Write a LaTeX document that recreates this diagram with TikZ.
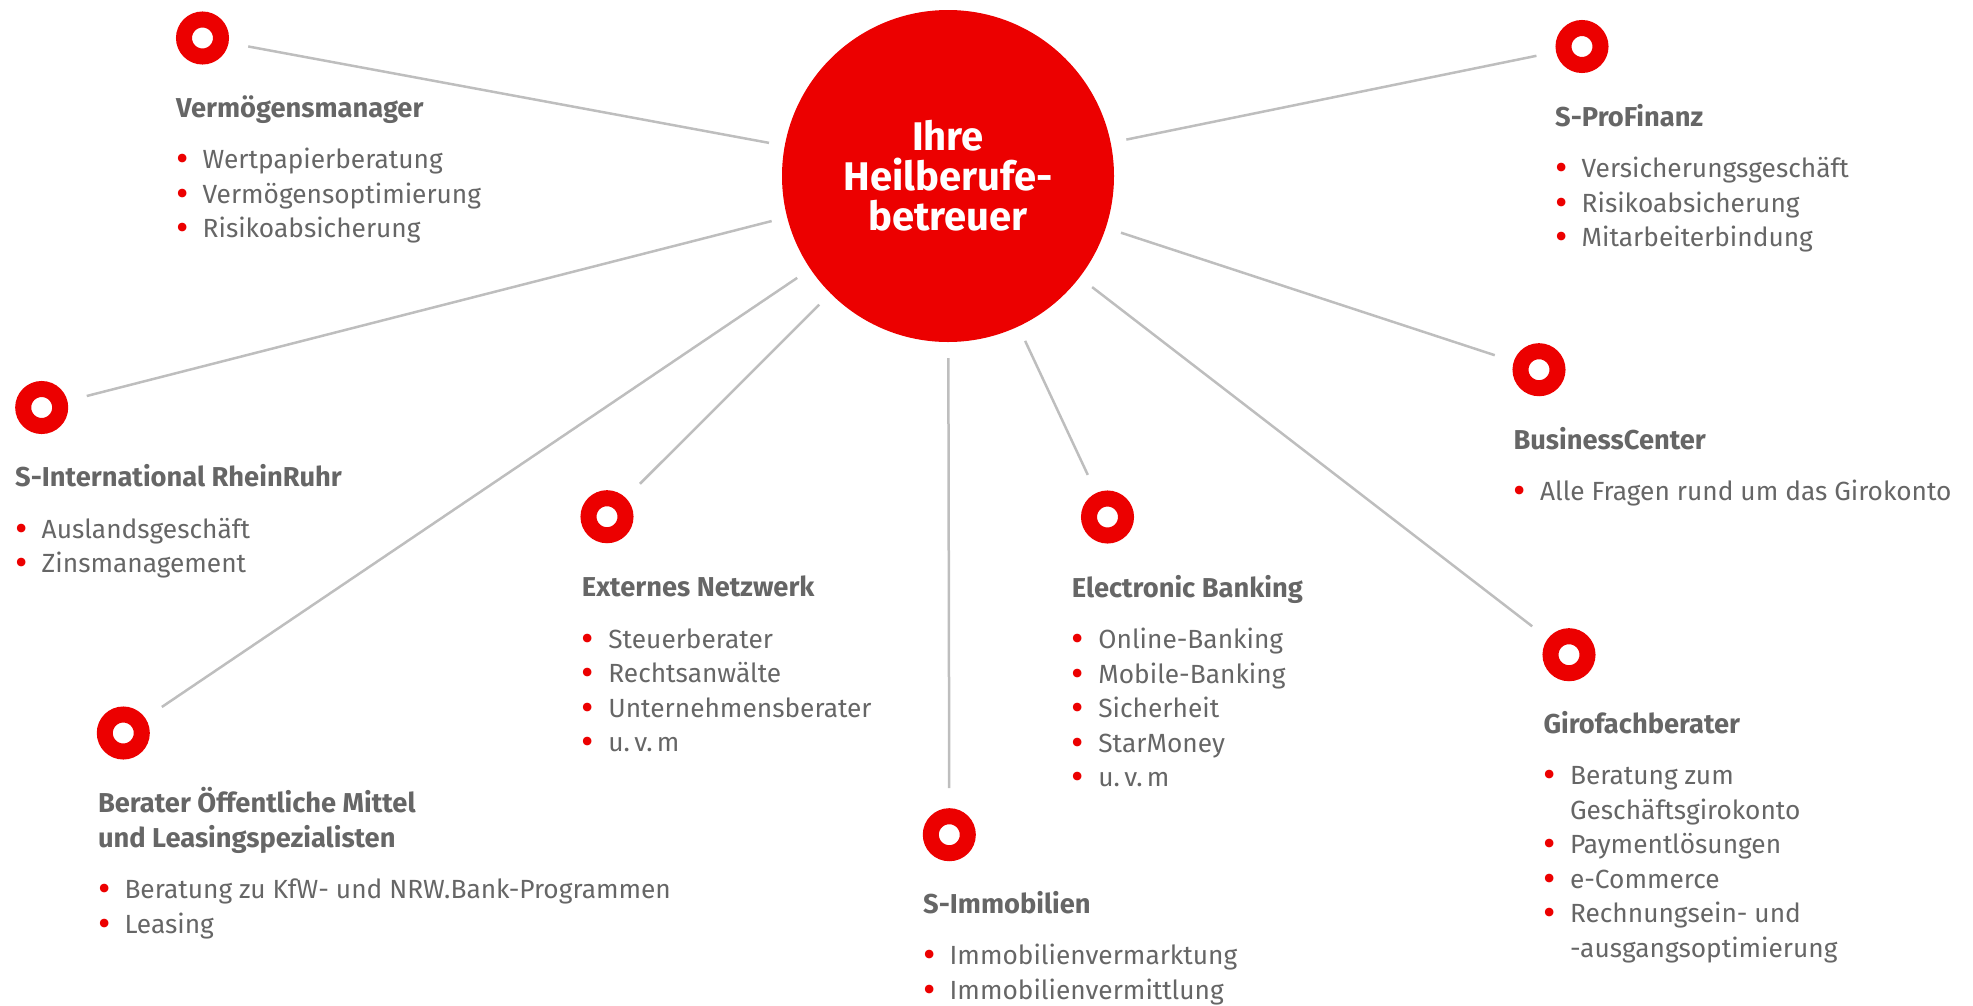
\documentclass[tikz,border=0pt]{standalone}
\usepackage{fontspec}
\setmainfont{Fira Sans}
\definecolor{sred}{RGB}{236,0,0}
\definecolor{sgray}{RGB}{102,102,102}
\definecolor{lgray}{RGB}{190,190,190}
\newcommand{\bul}{\makebox[26.5pt][l]{\raisebox{-3pt}{\textcolor{sred}{\fontsize{38}{0}\selectfont•}}}}
\newcommand{\nob}{\hspace*{26.5pt}}
\newcommand{\grp}[2]{\begin{tabular}[t]{@{}l@{}}\ttlfont #1\\[17pt] #2\end{tabular}}
\newcommand{\ttlfont}{\bfseries\fontsize{27.3}{34.5}\selectfont}
\begin{document}
\begin{tikzpicture}[x=1pt,y=1pt,
  ring/.style={circle,draw=sred,line width=16pt,fill=white,minimum size=37pt,inner sep=0pt,outer sep=8pt},
  hubnode/.style={circle,fill=sred,minimum size=332pt,inner sep=0pt,outer sep=0pt,text=white,align=center,font={\bfseries\fontsize{40}{40}\selectfont}},
  info/.style={anchor=base west,inner sep=0pt,text=sgray,font={\fontsize{26.3}{34.5}\selectfont}},
  spoke/.style={draw=lgray,line width=2.5pt,shorten <=20pt,shorten >=16pt}]
\useasboundingbox (0,0) rectangle (1973,-1005);
\node[hubnode] (hub) at (948,-176) {Ihre\\Heilberufe-\\betreuer};
\foreach \n/\x/\y in {vm/202.5/38,pf/1582/46.5,si/41.7/407.5,bo/123.3/733,en/607/516.7,im/949.3/834.7,eb/1107.5/517,gf/1569/654.7,bc/1539/369.7}
  \node[ring] (\n) at (\x,-\y) {};
\foreach \n in {vm,pf,si,bo,en,im,eb,gf,bc}
  \draw[spoke] (\n) -- (hub);
\node[info] (vmT) at (176,-117) {\grp{Vermögensmanager}{\bul Wertpapierberatung\\\bul Vermögensoptimierung\\\bul Risikoabsicherung}};
\node[info] (pfT) at (1555,-126) {\grp{S-ProFinanz}{\bul Versicherungsgeschäft\\\bul Risikoabsicherung\\\bul Mitarbeiterbindung}};
\node[info] (siT) at (15,-486.7) {\grp{S-International RheinRuhr}{\bul Auslandsgeschäft\\\bul Zinsmanagement}};
\node[info] (boT) at (97.8,-812.7) {\grp{Berater Öffentliche Mittel\\\ttlfont und Leasingspezialisten}{\bul Beratung zu KfW- und NRW.Bank-Programmen\\\bul Leasing}};
\node[info] (enT) at (581.7,-596.7) {\grp{Externes Netzwerk}{\bul Steuerberater\\\bul Rechtsanwälte\\\bul Unternehmensberater\\\bul u.\,v.\,m}};
\node[info] (imT) at (923,-913) {\grp{S-Immobilien}{\bul Immobilienvermarktung\\\bul Immobilienvermittlung}};
\node[info] (ebT) at (1071.7,-597.3) {\grp{Electronic Banking}{\bul Online-Banking\\\bul Mobile-Banking\\\bul Sicherheit\\\bul StarMoney\\\bul u.\,v.\,m}};
\node[info] (gfT) at (1543.3,-733.3) {\grp{Girofachberater}{\bul Beratung zum\\\nob Geschäftsgirokonto\\\bul Paymentlösungen\\\bul e-Commerce\\\bul Rechnungsein- und\\\nob -ausgangsoptimierung}};
\node[info] (bcT) at (1513.3,-449.3) {\grp{BusinessCenter}{\bul Alle Fragen rund um das Girokonto}};
\end{tikzpicture}
\end{document}
